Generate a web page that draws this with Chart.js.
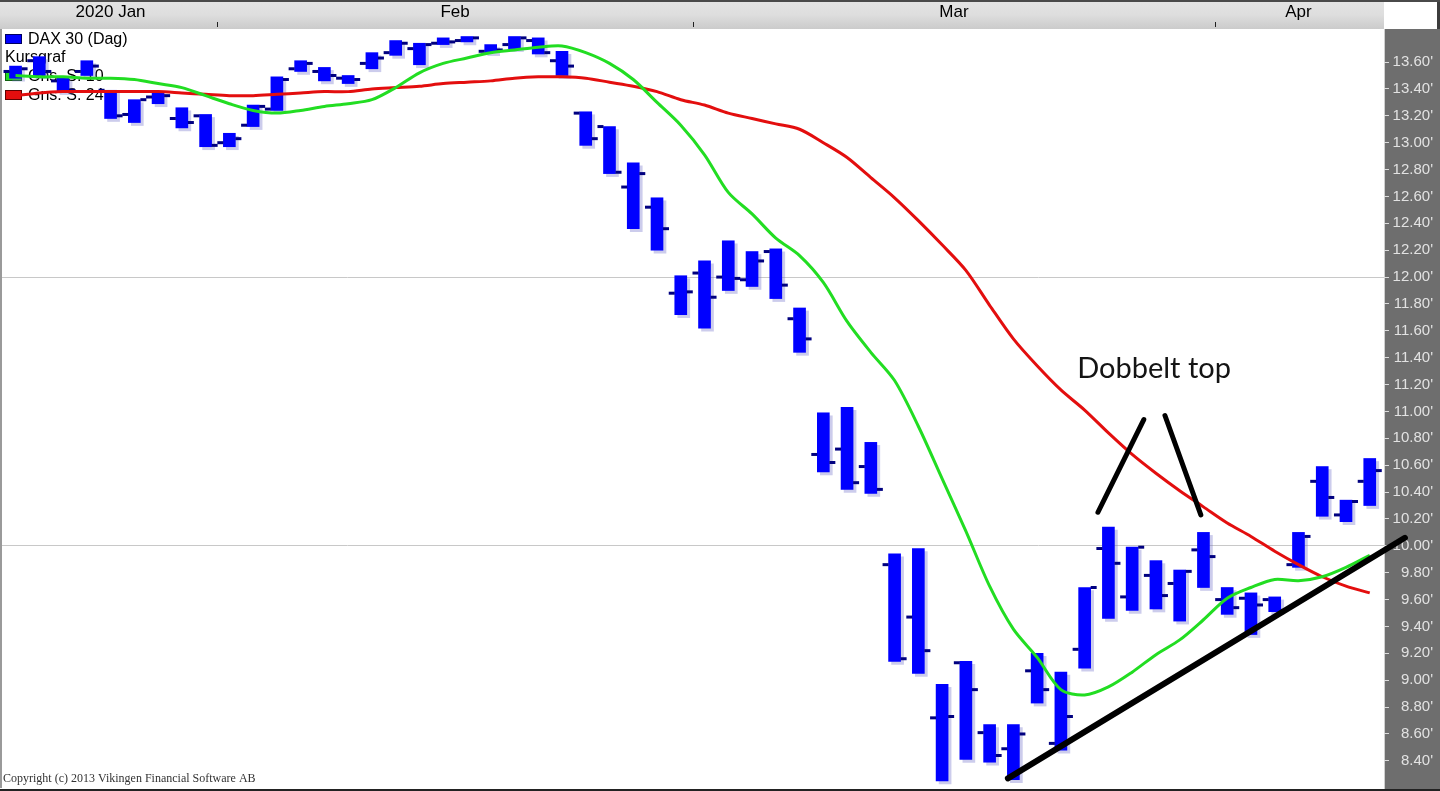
<!DOCTYPE html>
<html>
<head>
<meta charset="utf-8">
<title>DAX 30 (Dag)</title>
<script src="https://cdn.jsdelivr.net/npm/chart.js@4.4.1/dist/chart.umd.min.js"></script>
<style>
    html, body { margin: 0; padding: 0; background: #ffffff; }
    #wrap { width: 1440px; height: 791px; }
</style>
</head>
<body>
<div id="wrap"><canvas id="daxChart"></canvas></div>
<script>
'use strict';

// Trading days shown on the chart
const tradingDays = [
    '2020-01-21', '2020-01-22', '2020-01-23', '2020-01-24', '2020-01-27', '2020-01-28', '2020-01-29', '2020-01-30', '2020-01-31',
    '2020-02-03', '2020-02-04', '2020-02-05', '2020-02-06', '2020-02-07', '2020-02-10', '2020-02-11', '2020-02-12', '2020-02-13',
    '2020-02-14', '2020-02-17', '2020-02-18', '2020-02-19', '2020-02-20', '2020-02-21', '2020-02-24', '2020-02-25', '2020-02-26',
    '2020-02-27', '2020-02-28', '2020-03-02', '2020-03-03', '2020-03-04', '2020-03-05', '2020-03-06', '2020-03-09', '2020-03-10',
    '2020-03-11', '2020-03-12', '2020-03-13', '2020-03-16', '2020-03-17', '2020-03-18', '2020-03-19', '2020-03-20', '2020-03-23',
    '2020-03-24', '2020-03-25', '2020-03-26', '2020-03-27', '2020-03-30', '2020-03-31', '2020-04-01', '2020-04-02', '2020-04-03',
    '2020-04-06', '2020-04-07', '2020-04-08', '2020-04-09'
];
const monthKeys = ['2020-01', '2020-02', '2020-03', '2020-04'];
const monthLabels = ['2020 Jan', 'Feb', 'Mar', 'Apr'];

// Kursgraf (in thousands)
const priceHigh = [13.57, 13.64, 13.48, 13.61, 13.39, 13.32, 13.38, 13.26, 13.21, 13.07,
    13.28, 13.49, 13.61, 13.56, 13.50, 13.67, 13.76, 13.74, 13.78, 13.79,
    13.73, 13.79, 13.78, 13.68, 13.23, 13.12, 12.85, 12.59, 12.01, 12.12,
    12.27, 12.19, 12.21, 11.77, 10.99, 11.03, 10.77, 9.94, 9.98, 8.97,
    9.14, 8.67, 8.67, 9.20, 9.06, 9.69, 10.14, 9.99, 9.89, 9.82,
    10.10, 9.69, 9.65, 9.62, 10.10, 10.59, 10.34, 10.65];
const priceLow = [13.48, 13.50, 13.38, 13.50, 13.18, 13.15, 13.29, 13.11, 12.97, 12.97,
    13.12, 13.24, 13.53, 13.46, 13.44, 13.55, 13.65, 13.58, 13.73, 13.75,
    13.67, 13.70, 13.66, 13.50, 12.98, 12.77, 12.36, 12.20, 11.72, 11.62,
    11.90, 11.93, 11.84, 11.44, 10.55, 10.42, 10.39, 9.14, 9.05, 8.25,
    8.41, 8.39, 8.26, 8.83, 8.48, 9.09, 9.46, 9.52, 9.53, 9.44,
    9.69, 9.49, 9.34, 9.51, 9.84, 10.22, 10.18, 10.30];
const priceOpen = [13.53, 13.61, 13.46, 13.53, 13.39, 13.21, 13.34, 13.18, 13.20, 13.00,
    13.13, 13.25, 13.55, 13.53, 13.48, 13.59, 13.67, 13.70, 13.74, 13.76,
    13.68, 13.73, 13.76, 13.61, 13.22, 13.12, 12.67, 12.52, 11.88, 12.03,
    12.00, 11.98, 12.19, 11.69, 10.68, 10.72, 10.59, 9.86, 9.47, 8.72,
    9.13, 8.61, 8.49, 9.07, 8.53, 9.23, 9.98, 9.62, 9.78, 9.72,
    9.97, 9.60, 9.61, 9.60, 9.86, 10.48, 10.23, 10.48];
const priceClose = [13.55, 13.53, 13.39, 13.57, 13.20, 13.32, 13.35, 13.15, 12.98, 13.03,
    13.27, 13.47, 13.59, 13.50, 13.47, 13.63, 13.74, 13.73, 13.75, 13.78,
    13.69, 13.78, 13.67, 13.57, 13.03, 12.78, 12.77, 12.36, 11.89, 11.85,
    11.99, 12.12, 11.94, 11.54, 10.62, 10.47, 10.42, 9.16, 9.22, 8.73,
    8.93, 8.44, 8.60, 8.93, 8.73, 9.69, 9.87, 9.99, 9.63, 9.81,
    9.92, 9.54, 9.56, 9.52, 10.07, 10.36, 10.33, 10.56];

// Moving averages
const avgFast = [13.50, 13.49, 13.49, 13.48, 13.48, 13.47, 13.44, 13.41, 13.35, 13.29,
    13.24, 13.22, 13.24, 13.27, 13.29, 13.32, 13.41, 13.52, 13.59, 13.63,
    13.67, 13.69, 13.71, 13.72, 13.67, 13.59, 13.47, 13.30, 13.13, 12.91,
    12.63, 12.47, 12.29, 12.16, 11.96, 11.67, 11.44, 11.23, 10.89, 10.50,
    10.11, 9.70, 9.38, 9.17, 8.93, 8.89, 8.95, 9.06, 9.19, 9.30,
    9.45, 9.61, 9.69, 9.75, 9.74, 9.77, 9.84, 9.93];
const avgSlow = [13.35, 13.37, 13.38, 13.38, 13.38, 13.38, 13.38, 13.37, 13.36, 13.35,
    13.35, 13.36, 13.37, 13.38, 13.38, 13.40, 13.41, 13.42, 13.44, 13.45,
    13.46, 13.48, 13.49, 13.49, 13.48, 13.45, 13.42, 13.38, 13.32, 13.28,
    13.22, 13.18, 13.14, 13.10, 13.00, 12.89, 12.74, 12.59, 12.42, 12.24,
    12.05, 11.79, 11.54, 11.34, 11.16, 11.01, 10.84, 10.68, 10.54, 10.41,
    10.29, 10.17, 10.07, 9.96, 9.86, 9.77, 9.70, 9.65];

const yTickValues = [8.4, 8.6, 8.8, 9.0, 9.2, 9.4, 9.6, 9.8, 10.0, 10.2, 10.4, 10.6, 10.8,
    11.0, 11.2, 11.4, 11.6, 11.8, 12.0, 12.2, 12.4, 12.6, 12.8, 13.0, 13.2, 13.4, 13.6];
const yGridValues = [10.0, 12.0];

// Drawn-in annotations (x = trading day index, y = index level)
const trendLine = [{x: 41.77, y: 8.27}, {x: 58.48, y: 10.06}];
const topLineLeft = [{x: 45.56, y: 10.25}, {x: 47.49, y: 10.94}];
const topLineRight = [{x: 48.38, y: 10.97}, {x: 49.89, y: 10.23}];
const noteText = 'Dobbelt top';
const notePos = {x: 47.92, y: 11.32};

const legendItems = ['DAX 30 (Dag)', 'Kursgraf', 'Gns. S. 10', 'Gns. S. 24'];
const copyrightText = 'Copyright (c) 2013 Vikingen Financial Software AB';

let mycolors = {
    bar: '#0000ff',
    tick: '#000080',
    fast: '#22dd22',
    slow: '#e30e0e',
    panel: '#6e6e6e',
    shadow: 'rgba(110,110,200,0.35)'
};

Chart.defaults.font.family = "'Liberation Sans', Arial, sans-serif";
Chart.defaults.animation = false;

// month centres for labels, boundaries for the little header marks
let monthCenters = monthKeys.map(key => {
    let idx = [];
    tradingDays.forEach((d, i) => { if (d.startsWith(key)) idx.push(i); });
    return (idx[0] + idx[idx.length - 1]) / 2;
});
let monthBounds = monthKeys.slice(1).map(key => tradingDays.findIndex(d => d.startsWith(key)) - 0.5);

const tickShift = 0.38;

let ohlcBars = tradingDays.map((d, i) => ({x: i, y: [priceLow[i], priceHigh[i]]}));
let openTicks = tradingDays.map((d, i) => ({x: i - tickShift, y: priceOpen[i]}));
let closeTicks = tradingDays.map((d, i) => ({x: i + tickShift, y: priceClose[i]}));
let fastLine = avgFast.map((v, i) => ({x: i, y: v}));
let slowLine = avgSlow.map((v, i) => ({x: i, y: v}));

function swatch(ctx, x, y, fill, stroke) {
    ctx.fillStyle = fill;
    ctx.fillRect(x, y, 17, 10);
    ctx.strokeStyle = stroke;
    ctx.lineWidth = 1;
    ctx.strokeRect(x + 0.5, y + 0.5, 16, 9);
}

function noEdgePadding(scale) {
    scale.paddingTop = 0;
    scale.paddingBottom = 0;
    scale.paddingLeft = 0;
    scale.paddingRight = 0;
}

const framePlugin = {
    id: 'frame',
    beforeDraw(chart) {
        const {ctx, chartArea: a, width, height} = chart;
        ctx.save();
        ctx.fillStyle = '#ffffff';
        ctx.fillRect(0, 0, width, height);
        // header band
        let g = ctx.createLinearGradient(0, 0, 0, a.top);
        g.addColorStop(0, '#e4e4e4');
        g.addColorStop(0.5, '#dedede');
        g.addColorStop(1, '#cbcbcb');
        ctx.fillStyle = g;
        ctx.fillRect(0, 0, a.right, a.top);
        // price panel
        ctx.fillStyle = mycolors.panel;
        ctx.fillRect(a.right, a.top, width - a.right, height - a.top);
        ctx.fillStyle = '#cfcfcf';
        ctx.fillRect(a.right, a.top, 1, height - a.top);
        // corner box
        ctx.fillStyle = '#ffffff';
        ctx.fillRect(a.right, 0, width - a.right, a.top);
        ctx.fillStyle = '#3c3c3c';
        ctx.fillRect(width - 3, 0, 3, a.top);
        // outer lines
        ctx.fillStyle = '#4a4a4a';
        ctx.fillRect(0, 0, width, 2);
        ctx.fillStyle = '#9a9a9a';
        ctx.fillRect(0, a.top, 2, a.bottom - a.top);
        ctx.fillStyle = '#222222';
        ctx.fillRect(0, a.bottom + 1, width, height - a.bottom - 1);
        ctx.restore();
    },
    beforeDatasetsDraw(chart) {
        const {ctx, chartArea: a, scales: {x}} = chart;
        ctx.save();
        // month separators in the header
        ctx.fillStyle = '#202020';
        monthBounds.forEach(b => {
            ctx.fillRect(Math.round(x.getPixelForValue(b)), a.top - 7, 1, 5);
        });
        // legend (drawn under the data like the original)
        ctx.font = "16px 'Liberation Sans', Arial, sans-serif";
        ctx.textBaseline = 'middle';
        ctx.textAlign = 'left';
        swatch(ctx, 5, 34, mycolors.bar, '#000060');
        ctx.fillStyle = '#000000';
        ctx.fillText(legendItems[0], 28, 40);
        ctx.fillText(legendItems[1], 5, 58);
        swatch(ctx, 5, 71, mycolors.fast, '#106010');
        ctx.fillStyle = '#000000';
        ctx.fillText(legendItems[2], 28, 77);
        swatch(ctx, 5, 90, mycolors.slow, '#600000');
        ctx.fillStyle = '#000000';
        ctx.fillText(legendItems[3], 28, 96);
        // copyright
        ctx.font = "12px 'Liberation Serif', 'Times New Roman', serif";
        ctx.fillStyle = '#333333';
        ctx.textBaseline = 'alphabetic';
        ctx.fillText(copyrightText, 3, a.bottom - 6);
        ctx.restore();
    },
    beforeDatasetDraw(chart, args) {
        if (args.meta.type === 'bar') {
            chart.ctx.save();
            chart.ctx.shadowColor = mycolors.shadow;
            chart.ctx.shadowOffsetX = 3;
            chart.ctx.shadowOffsetY = 3;
            chart.ctx.shadowBlur = 0;
        }
    },
    afterDatasetDraw(chart, args) {
        if (args.meta.type === 'bar') {
            chart.ctx.restore();
        }
    },
    afterDatasetsDraw(chart) {
        const {ctx, scales: {x, y}} = chart;
        ctx.save();
        ctx.font = "29px Lato, 'Open Sans', sans-serif";
        ctx.fillStyle = '#141414';
        ctx.textAlign = 'center';
        ctx.textBaseline = 'middle';
        ctx.fillText(noteText, x.getPixelForValue(notePos.x), y.getPixelForValue(notePos.y));
        ctx.restore();
    }
};

let ctxDax = document.getElementById('daxChart').getContext('2d');
let daxChart = new Chart(ctxDax, {
    type: 'bar',
    data: {
        datasets: [{
            type: 'line',
            label: 'Trend',
            data: trendLine,
            borderColor: '#000000',
            borderWidth: 6,
            borderCapStyle: 'round',
            pointRadius: 0,
            clip: false,
            order: 1
        }, {
            type: 'line',
            label: 'Top 1',
            data: topLineLeft,
            borderColor: '#000000',
            borderWidth: 5,
            borderCapStyle: 'round',
            pointRadius: 0,
            order: 1
        }, {
            type: 'line',
            label: 'Top 2',
            data: topLineRight,
            borderColor: '#000000',
            borderWidth: 5,
            borderCapStyle: 'round',
            pointRadius: 0,
            order: 1
        }, {
            type: 'line',
            label: legendItems[2],
            data: fastLine,
            borderColor: mycolors.fast,
            borderWidth: 3,
            pointRadius: 0,
            tension: 0.3,
            order: 2
        }, {
            type: 'line',
            label: legendItems[3],
            data: slowLine,
            borderColor: mycolors.slow,
            borderWidth: 3,
            pointRadius: 0,
            tension: 0.3,
            order: 3
        }, {
            type: 'line',
            label: 'Open',
            data: openTicks,
            showLine: false,
            pointStyle: 'line',
            pointRadius: 3,
            pointBorderWidth: 3,
            pointBorderColor: mycolors.tick,
            order: 4
        }, {
            type: 'line',
            label: 'Close',
            data: closeTicks,
            showLine: false,
            pointStyle: 'line',
            pointRadius: 3,
            pointBorderWidth: 3,
            pointBorderColor: mycolors.tick,
            order: 4
        }, {
            label: legendItems[0],
            data: ohlcBars,
            backgroundColor: mycolors.bar,
            borderWidth: 0,
            barThickness: 12,
            borderSkipped: false,
            order: 5
        }]
    },
    options: {
        maintainAspectRatio: false,
        responsive: true,
        layout: {
            autoPadding: false,
            padding: {left: 2, right: 7, top: 0, bottom: 3}
        },
        scales: {
            x: {
                type: 'linear',
                position: 'top',
                offset: false,
                min: -0.57,
                max: tradingDays.length - 1 + 0.6,
                grid: {display: false, drawTicks: false},
                border: {display: false},
                afterBuildTicks: scale => {
                    scale.ticks = monthCenters.map(v => ({value: v}));
                },
                afterFit: scale => {
                    scale.height = 29;
                    noEdgePadding(scale);
                },
                ticks: {
                    autoSkip: false,
                    maxRotation: 0,
                    color: '#000000',
                    font: {size: 17},
                    padding: 6,
                    callback: value => {
                        let k = monthCenters.findIndex(c => Math.abs(c - value) < 1e-6);
                        return k >= 0 ? monthLabels[k] : '';
                    }
                }
            },
            y: {
                type: 'linear',
                position: 'right',
                min: 8.198,
                max: 13.846,
                border: {display: false},
                afterBuildTicks: scale => {
                    scale.ticks = yTickValues.map(v => ({value: v}));
                },
                afterFit: scale => {
                    scale.width = 49;
                    noEdgePadding(scale);
                },
                grid: {
                    color: c => (c.tick && yGridValues.some(v => Math.abs(v - c.tick.value) < 1e-6)) ? '#c8c8c8' : 'rgba(0,0,0,0)',
                    tickColor: '#dcdcdc',
                    tickLength: 5,
                    lineWidth: 1
                },
                ticks: {
                    autoSkip: false,
                    color: '#e2e2e2',
                    font: {size: 15},
                    padding: 3,
                    crossAlign: 'far',
                    callback: value => value.toFixed(2) + "'"
                }
            }
        },
        plugins: {
            legend: {display: false},
            title: {display: false},
            tooltip: {enabled: false}
        }
    },
    plugins: [framePlugin]
});
</script>
</body>
</html>
